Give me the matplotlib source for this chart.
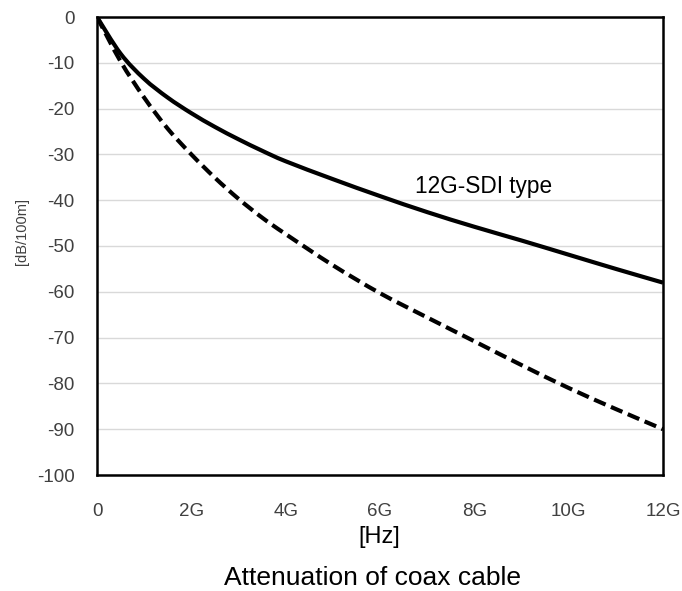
import matplotlib
matplotlib.use("Agg")
import matplotlib.pyplot as plt
from matplotlib.path import Path
from matplotlib.patches import PathPatch

plt.rcParams['font.family'] = ['Liberation Sans', 'DejaVu Sans']

# Frequency in GHz, attenuation in dB/100m
freq_sdi = [0, 0.5, 1, 1.5, 2, 2.5, 3, 3.5, 4, 5, 6, 7, 8, 9, 10, 11, 12]
atten_sdi = [0, -8.0, -13.5, -17.6, -21.0, -24.0, -26.7, -29.2, -31.5, -35.4,
             -39.1, -42.6, -45.8, -48.8, -51.9, -55.0, -58.0]

freq_std = [0, 0.5, 1, 1.5, 2, 2.5, 3, 3.5, 4, 5, 6, 7, 8, 9, 10, 11, 12]
atten_std = [0, -9.7, -17.6, -24.4, -30.0, -35.1, -39.7, -43.8, -47.4, -54.2,
             -60.3, -65.6, -70.8, -76.0, -81.0, -85.6, -90.0]

x_ticks = [0, 2, 4, 6, 8, 10, 12]
x_tick_labels = ['0', '2G', '4G', '6G', '8G', '10G', '12G']
y_ticks = [0, -10, -20, -30, -40, -50, -60, -70, -80, -90, -100]


def smooth_path(xs, ys):
    """Smoothed line through the points (Catmull-Rom segments as cubic Beziers)."""
    pts = list(zip(xs, ys))
    ext = [pts[0]] + pts + [pts[-1]]
    verts = [pts[0]]
    codes = [Path.MOVETO]
    for i in range(1, len(ext) - 2):
        p0, p1, p2, p3 = ext[i - 1], ext[i], ext[i + 1], ext[i + 2]
        c1 = (p1[0] + (p2[0] - p0[0]) / 6, p1[1] + (p2[1] - p0[1]) / 6)
        c2 = (p2[0] - (p3[0] - p1[0]) / 6, p2[1] - (p3[1] - p1[1]) / 6)
        verts += [c1, c2, p2]
        codes += [Path.CURVE4] * 3
    return Path(verts, codes)


fig = plt.figure(figsize=(6.82, 5.91), dpi=100)
ax = fig.add_axes([97 / 682, 1 - 475 / 591, (663 - 97) / 682, (475 - 17) / 591])

ax.add_patch(PathPatch(smooth_path(freq_sdi, atten_sdi), facecolor='none',
                       edgecolor='black', lw=3.0, zorder=3, capstyle='butt'))
ax.add_patch(PathPatch(smooth_path(freq_std, atten_std), facecolor='none',
                       edgecolor='black', lw=3.0, zorder=3, capstyle='butt',
                       linestyle=(0, (3.0, 1.4))))

ax.set_xlim(0, 12)
ax.set_ylim(-100, 0)
ax.set_xticks(x_ticks)
ax.set_xticklabels(x_tick_labels)
ax.set_yticks(y_ticks)
ax.set_yticklabels([str(v) for v in y_ticks])

ax.grid(axis='y', color='#d9d9d9', lw=1.0, zorder=0)
ax.set_axisbelow(True)
for s in ax.spines.values():
    s.set_color('black')
    s.set_linewidth(1.8)
    s.set_zorder(4)

ax.tick_params(axis='both', length=0, labelsize=13.5, labelcolor='#404040')
ax.tick_params(axis='y', pad=16)
ax.tick_params(axis='x', pad=20)

ax.text(6.74, -37.1, '12G-SDI type', fontsize=16.3, ha='left', va='center', color='black')

fig.text(379 / 682, 1 - 537 / 591, '[Hz]', fontsize=17, ha='center', va='center', color='black')
fig.text(22 / 682, 1 - 232 / 591, '[dB/100m]', fontsize=10.5, rotation=90,
         ha='center', va='center', color='#404040')
fig.text(372 / 682, 1 - 578 / 591, 'Attenuation of coax cable', fontsize=19,
         ha='center', va='center', color='black')

fig.savefig('out.png', dpi=100)
